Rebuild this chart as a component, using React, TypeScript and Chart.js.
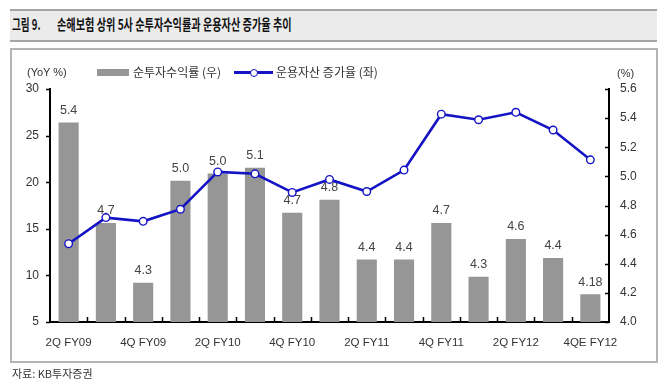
import React, { useEffect, useRef } from 'react';
import { Chart, registerables } from 'chart.js';

Chart.register(...registerables);

// ---- data ----
const categories = [
  '2Q FY09', '3Q FY09', '4Q FY09', '1Q FY10', '2Q FY10', '3Q FY10', '4Q FY10', '1Q FY11',
  '2Q FY11', '3Q FY11', '4Q FY11', '1Q FY12', '2Q FY12', '3Q FY12', '4QE FY12',
];
const xTickLabels = [
  '2Q FY09', '', '4Q FY09', '', '2Q FY10', '', '4Q FY10', '',
  '2Q FY11', '', '4Q FY11', '', '2Q FY12', '', '4QE FY12',
];
// 순투자수익률 (우) – right axis, %
const investmentYield = [5.37, 4.68, 4.27, 4.97, 5.02, 5.06, 4.75, 4.84, 4.43, 4.43, 4.68, 4.31, 4.57, 4.44, 4.19];
const yieldLabels = ['5.4', '4.7', '4.3', '5.0', '5.0', '5.1', '4.7', '4.8', '4.4', '4.4', '4.7', '4.3', '4.6', '4.4', '4.18'];
// 운용자산 증가율 (좌) – left axis, YoY %
const assetGrowth = [13.4, 16.2, 15.8, 17.1, 21.1, 20.9, 18.9, 20.3, 19.0, 21.3, 27.3, 26.7, 27.5, 25.6, 22.4];

const leftTicks = [5, 10, 15, 20, 25, 30];
const rightTicks = [4.0, 4.2, 4.4, 4.6, 4.8, 5.0, 5.2, 5.4, 5.6];

const NUM_FONT = "'Liberation Sans', Arial, sans-serif";
const KR_FONT = "'Noto Sans CJK KR', 'Noto Sans', sans-serif";
const BAR_COLOR = '#969696';
const LINE_COLOR = '#1414c4';
const TEXT_COLOR = '#333333';

const tickMarksPlugin = {
  id: 'tickMarks',
  afterDraw(chart: any) {
    const { ctx, chartArea, scales } = chart;
    ctx.save();
    ctx.strokeStyle = '#000';
    ctx.lineWidth = 1.5;
    ctx.beginPath();
    leftTicks.forEach((v) => {
      const y = Math.round(scales.yL.getPixelForValue(v)) + 0.5;
      ctx.moveTo(chartArea.left - 4, y);
      ctx.lineTo(chartArea.left, y);
    });
    rightTicks.forEach((v) => {
      const y = Math.round(scales.yR.getPixelForValue(v)) + 0.5;
      ctx.moveTo(chartArea.right - 4, y);
      ctx.lineTo(chartArea.right, y);
    });
    for (let i = 0; i < categories.length - 1; i++) {
      const x = Math.round((scales.x.getPixelForValue(i) + scales.x.getPixelForValue(i + 1)) / 2) + 0.5;
      ctx.moveTo(x, chartArea.bottom);
      ctx.lineTo(x, chartArea.bottom - 5);
    }
    ctx.stroke();
    ctx.restore();
  },
};

const barLabelPlugin = {
  id: 'barLabels',
  afterDatasetDraw(chart: any, args: any) {
    if (args.index !== 0) return;
    const { ctx } = chart;
    const meta = chart.getDatasetMeta(0);
    ctx.save();
    ctx.font = `12.5px ${NUM_FONT}`;
    ctx.fillStyle = '#444';
    ctx.textAlign = 'center';
    ctx.textBaseline = 'middle';
    meta.data.forEach((el: any, i: number) => {
      ctx.fillText(yieldLabels[i], el.x, el.y - 12);
    });
    ctx.restore();
  },
};

export default function App() {
  const canvasRef = useRef<HTMLCanvasElement | null>(null);

  useEffect(() => {
    if (!canvasRef.current) return;
    const chart = new Chart(canvasRef.current, {
      type: 'bar',
      data: {
        labels: categories,
        datasets: [
          {
            type: 'bar',
            label: '순투자수익률 (우)',
            data: investmentYield,
            yAxisID: 'yR',
            backgroundColor: BAR_COLOR,
            borderWidth: 0,
            categoryPercentage: 1,
            barPercentage: 0.54,
            order: 1,
          } as any,
          {
            type: 'line',
            label: '운용자산 증가율 (좌)',
            data: assetGrowth,
            yAxisID: 'yL',
            borderColor: LINE_COLOR,
            borderWidth: 2.6,
            tension: 0,
            pointRadius: 3.8,
            pointBorderWidth: 1.4,
            pointBackgroundColor: '#ffffff',
            pointBorderColor: LINE_COLOR,
            order: 0,
          } as any,
        ],
      },
      options: {
        responsive: false,
        maintainAspectRatio: false,
        animation: false,
        layout: { padding: { top: 89, left: 0, right: 0, bottom: 0 } },
        plugins: {
          legend: { display: false },
          tooltip: { enabled: false },
        },
        scales: {
          x: {
            type: 'category',
            offset: true,
            grid: { display: false, drawTicks: false },
            border: { display: true, color: '#000', width: 2 },
            ticks: {
              autoSkip: false,
              maxRotation: 0,
              padding: 14,
              color: TEXT_COLOR,
              font: { family: NUM_FONT, size: 11.5 },
              callback: (_v: any, i: number) => xTickLabels[i],
            },
            afterFit: (s: any) => { s.height = 70; },
          },
          yL: {
            type: 'linear',
            position: 'left',
            min: 5,
            max: 30,
            grid: { display: false, drawTicks: false },
            border: { display: true, color: '#000', width: 2 },
            ticks: {
              stepSize: 5,
              padding: 11,
              color: TEXT_COLOR,
              font: { family: NUM_FONT, size: 12 },
            },
            afterFit: (s: any) => { s.width = 50; },
          },
          yR: {
            type: 'linear',
            position: 'right',
            min: 4.0,
            max: 5.6,
            grid: { display: false, drawTicks: false },
            border: { display: true, color: '#000', width: 2 },
            ticks: {
              stepSize: 0.2,
              padding: 11,
              color: TEXT_COLOR,
              font: { family: NUM_FONT, size: 12 },
              callback: (v: any) => Number(v).toFixed(1),
            },
            afterFit: (s: any) => { s.width = 61; },
          },
        },
      } as any,
      plugins: [barLabelPlugin, tickMarksPlugin],
    });
    return () => chart.destroy();
  }, []);

  const abs: React.CSSProperties = { position: 'absolute', whiteSpace: 'nowrap', margin: 0 };

  return (
    <div style={{ position: 'absolute', left: 0, top: 0, width: 670, height: 392, background: '#fff', overflow: 'hidden' }}>
      {/* title bar */}
      <div style={{ ...abs, left: 10, top: 9, width: 647, height: 33, boxSizing: 'border-box', borderTop: '2px solid #a4a4a4', borderBottom: '2px solid #a4a4a4', background: '#ebebeb' }} />
      <span style={{ ...abs, left: 12, top: 16, fontFamily: KR_FONT, fontSize: 14.5, fontWeight: 700, lineHeight: '16px', color: '#111', transform: 'scaleX(0.66)', transformOrigin: 'left center' }}>그림 9.</span>
      <span style={{ ...abs, left: 57, top: 16, fontFamily: KR_FONT, fontSize: 14.5, fontWeight: 700, lineHeight: '16px', color: '#111', transform: 'scaleX(0.7)', transformOrigin: 'left center' }}>손해보험 상위 5사 순투자수익률과 운용자산 증가율 추이</span>

      {/* frame */}
      <div style={{ ...abs, left: 10, top: 48, width: 648, height: 315, boxSizing: 'border-box', border: '2px solid #b4b4b4' }} />

      <canvas ref={canvasRef} width={670} height={392} style={{ position: 'absolute', left: 0, top: 0, width: 670, height: 392 }} />

      {/* axis units */}
      <span style={{ ...abs, left: 27, top: 66, fontFamily: NUM_FONT, fontSize: 11, lineHeight: '13px', color: TEXT_COLOR }}>(YoY %)</span>
      <span style={{ ...abs, left: 617, top: 67, fontFamily: NUM_FONT, fontSize: 11, lineHeight: '13px', color: TEXT_COLOR }}>(%)</span>

      {/* legend */}
      <div style={{ ...abs, left: 97, top: 69, width: 32, height: 7, background: BAR_COLOR }} />
      <span style={{ ...abs, left: 133, top: 65, fontFamily: KR_FONT, fontSize: 12, lineHeight: '14px', color: TEXT_COLOR }}>순투자수익률 (우)</span>
      <div style={{ ...abs, left: 234, top: 71, width: 39, height: 3, background: LINE_COLOR }} />
      <div style={{ ...abs, left: 250, top: 68.5, width: 8, height: 8, boxSizing: 'border-box', borderRadius: '50%', border: `1.4px solid ${LINE_COLOR}`, background: '#fff' }} />
      <span style={{ ...abs, left: 276, top: 65, fontFamily: KR_FONT, fontSize: 12, lineHeight: '14px', color: TEXT_COLOR }}>운용자산 증가율 (좌)</span>

      {/* source */}
      <span style={{ ...abs, left: 12, top: 367, fontFamily: KR_FONT, fontSize: 11, lineHeight: '13px', color: TEXT_COLOR }}>자료: KB투자증권</span>
    </div>
  );
}
